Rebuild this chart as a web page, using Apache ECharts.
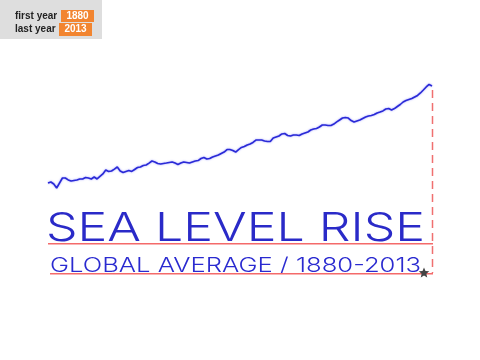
<!DOCTYPE html>
<html><head><meta charset="utf-8">
<script src="https://cdn.jsdelivr.net/npm/echarts@6/dist/echarts.min.js"></script>
<style>html,body{margin:0;padding:0;background:#fff}#c{width:480px;height:360px}</style>
</head><body><div id="c"></div>
<script>
const firstYear = 1880;
const lastYear = 2013;
const titleText = 'SEA LEVEL RISE';
const subtitleText = 'GLOBAL AVERAGE / 1880-2013';
const controlLabels = ['first year', 'last year'];
const controlValues = ['1880', '2013'];
// Global average sea level change (inches, relative to 1880), 1880..2013
const seaLevel = [
 0.00, 0.09,-0.09,-0.46, 0.00, 0.46, 0.46, 0.28, 0.18, 0.23,
 0.28, 0.37, 0.37, 0.50, 0.46, 0.37, 0.55, 0.37, 0.60, 0.83,
 1.19, 1.06, 1.10, 1.28, 1.47, 1.10, 0.96, 1.06, 1.15, 1.06,
 1.24, 1.42, 1.47, 1.61, 1.65, 1.83, 2.02, 1.93, 1.79, 1.74,
 1.79, 1.83, 1.88, 1.93, 1.83, 1.70, 1.83, 1.93, 1.88, 1.83,
 1.93, 2.02, 2.06, 2.25, 2.34, 2.20, 2.25, 2.39, 2.48, 2.57,
 2.71, 2.84, 3.07, 3.07, 2.98, 2.84, 3.07, 3.26, 3.35, 3.49,
 3.58, 3.72, 3.94, 3.94, 3.94, 3.85, 3.81, 3.81, 4.13, 4.22,
 4.31, 4.50, 4.54, 4.36, 4.31, 4.40, 4.40, 4.36, 4.50, 4.59,
 4.68, 4.86, 4.95, 5.00, 5.14, 5.32, 5.32, 5.28, 5.28, 5.41,
 5.60, 5.78, 5.96, 6.01, 5.96, 5.73, 5.60, 5.69, 5.78, 5.92,
 6.06, 6.15, 6.19, 6.28, 6.42, 6.51, 6.61, 6.79, 6.83, 6.70,
 6.83, 7.02, 7.20, 7.43, 7.57, 7.66, 7.75, 7.89, 8.03, 8.26,
 8.53, 8.81, 9.04, 8.90
];
const years = [];
for (let y = firstYear; y <= lastYear; y++) years.push(y);

const chart = echarts.init(document.getElementById('c'), null, {renderer: 'canvas'});
chart.setOption({
  animation: false,
  backgroundColor: '#ffffff',
  grid: {left: 48, right: 48, top: 74, bottom: 155.2},
  xAxis: {type: 'value', min: firstYear, max: lastYear, show: false},
  yAxis: {type: 'value', min: -2, max: 10, show: false},
  series: [{
    type: 'line',
    data: years.map((y, i) => [y, seaLevel[i]]),
    showSymbol: false,
    symbol: 'none',
    lineStyle: {color: '#2a2ad6', width: 1.6, shadowColor: 'rgba(90,90,255,0.6)', shadowBlur: 2}
  }]
});

const endPt = chart.convertToPixel({gridIndex: 0}, [lastYear, seaLevel[seaLevel.length - 1]]);
const startPt = chart.convertToPixel({gridIndex: 0}, [firstYear, 0]);
const xR = Math.round(endPt[0]);
const xL = Math.round(startPt[0]);

function starPoints(cx, cy, R, r) {
  const pts = [];
  for (let k = 0; k < 10; k++) {
    const a = -Math.PI / 2 + k * Math.PI / 5;
    const rr = k % 2 === 0 ? R : r;
    pts.push([cx + rr * Math.cos(a), cy + rr * Math.sin(a)]);
  }
  return pts;
}

const font = 'Liberation Sans, Arial, sans-serif';
const titleFont = 'Inter, "DejaVu Sans", sans-serif';
const titleFontStr = '300 40px ' + titleFont;
const subFontStr = '300 20px ' + titleFont;
const mctx = document.createElement('canvas').getContext('2d');
mctx.font = titleFontStr;
const titleW = mctx.measureText(titleText).width;
mctx.font = subFontStr;
const subW = mctx.measureText(subtitleText).width;
const titleScale = (425 - 46) / titleW;
const subScale = (421 - 50) / subW;

chart.setOption({
  graphic: [
    {type: 'rect', shape: {x: 0, y: 0, width: 102, height: 39}, style: {fill: '#dedede'}, z: 10},
    {type: 'text', x: 15, y: 16, style: {text: controlLabels[0], font: 'bold 10px ' + font, fill: '#222', verticalAlign: 'middle'}, z: 11},
    {type: 'text', x: 15, y: 29.5, style: {text: controlLabels[1], font: 'bold 10px ' + font, fill: '#222', verticalAlign: 'middle'}, z: 11},
    {type: 'rect', shape: {x: 61, y: 10, width: 33, height: 12}, style: {fill: '#f28530'}, z: 11},
    {type: 'rect', shape: {x: 59, y: 23, width: 33, height: 13}, style: {fill: '#f28530'}, z: 11},
    {type: 'text', x: 77.5, y: 16, style: {text: controlValues[0], font: 'bold 10px ' + font, fill: '#fff', align: 'center', verticalAlign: 'middle'}, z: 12},
    {type: 'text', x: 75.5, y: 29.5, style: {text: controlValues[1], font: 'bold 10px ' + font, fill: '#fff', align: 'center', verticalAlign: 'middle'}, z: 12},
    // decorative guide lines
    {type: 'line', shape: {x1: xR + 0.5, y1: endPt[1] + 4, x2: xR + 0.5, y2: 273}, style: {stroke: '#f07070', lineWidth: 1.5, lineDash: [8, 5]}, z: 5},
    {type: 'rect', shape: {x: xL, y: 243, width: xR - xL + 1, height: 1.5}, style: {fill: '#f46a6a', stroke: null}, z: 20},
    {type: 'rect', shape: {x: xL + 2, y: 273, width: xR - xL - 1, height: 1.5}, style: {fill: '#f46a6a', stroke: null}, z: 20},
    {type: 'polygon', shape: {points: starPoints(424, 273, 5.5, 2.5)}, style: {fill: '#444444'}, z: 21},
    // titles
    {type: 'text', x: 46, y: 229, scaleX: titleScale, style: {text: titleText, font: titleFontStr, fill: '#2a2ac8', verticalAlign: 'middle'}, z: 6},
    {type: 'text', x: 50, y: 266, scaleX: subScale, style: {text: subtitleText, font: subFontStr, fill: '#2a2ad0', verticalAlign: 'middle'}, z: 6}
  ]
});
</script>
</body></html>
